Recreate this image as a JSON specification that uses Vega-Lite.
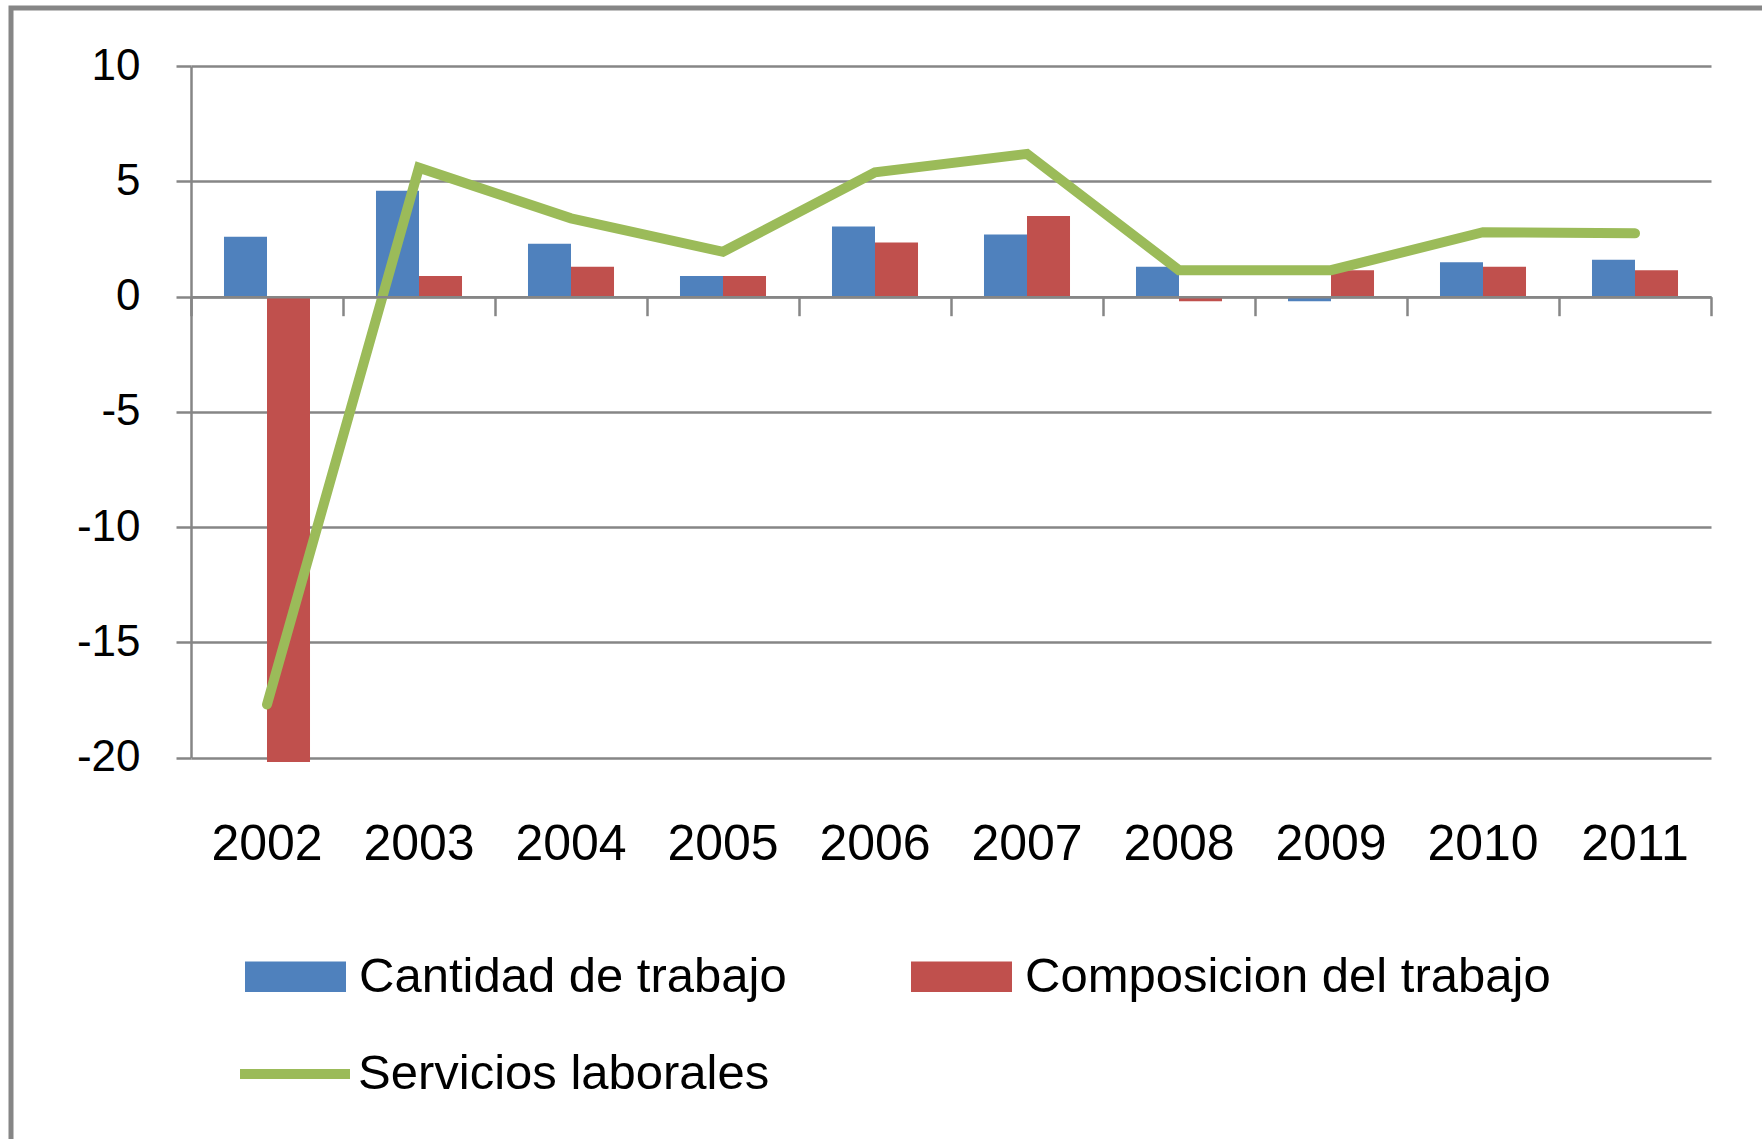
{
  "$schema": "https://vega.github.io/schema/vega-lite/v6.json",
  "width": 1761,
  "height": 1141,
  "autosize": "none",
  "padding": {"left": 11, "top": 8, "right": 0, "bottom": 0},
  "background": "white",
  "config": {
    "font": "Liberation Sans",
    "view": {"stroke": "#868686", "strokeWidth": 5}
  },
  "datasets": {
    "barras": [
      {"anio": "2002", "serie": "Cantidad de trabajo", "valor": 2.6},
      {"anio": "2002", "serie": "Composicion del trabajo", "valor": -20.2},
      {"anio": "2003", "serie": "Cantidad de trabajo", "valor": 4.6},
      {"anio": "2003", "serie": "Composicion del trabajo", "valor": 0.9},
      {"anio": "2004", "serie": "Cantidad de trabajo", "valor": 2.3},
      {"anio": "2004", "serie": "Composicion del trabajo", "valor": 1.3},
      {"anio": "2005", "serie": "Cantidad de trabajo", "valor": 0.9},
      {"anio": "2005", "serie": "Composicion del trabajo", "valor": 0.9},
      {"anio": "2006", "serie": "Cantidad de trabajo", "valor": 3.05},
      {"anio": "2006", "serie": "Composicion del trabajo", "valor": 2.35},
      {"anio": "2007", "serie": "Cantidad de trabajo", "valor": 2.7},
      {"anio": "2007", "serie": "Composicion del trabajo", "valor": 3.5},
      {"anio": "2008", "serie": "Cantidad de trabajo", "valor": 1.3},
      {"anio": "2008", "serie": "Composicion del trabajo", "valor": -0.2},
      {"anio": "2009", "serie": "Cantidad de trabajo", "valor": -0.2},
      {"anio": "2009", "serie": "Composicion del trabajo", "valor": 1.15},
      {"anio": "2010", "serie": "Cantidad de trabajo", "valor": 1.5},
      {"anio": "2010", "serie": "Composicion del trabajo", "valor": 1.3},
      {"anio": "2011", "serie": "Cantidad de trabajo", "valor": 1.6},
      {"anio": "2011", "serie": "Composicion del trabajo", "valor": 1.15}
    ],
    "linea": [
      {"anio": "2002", "serie": "Servicios laborales", "valor": -17.7},
      {"anio": "2003", "serie": "Servicios laborales", "valor": 5.6},
      {"anio": "2004", "serie": "Servicios laborales", "valor": 3.4},
      {"anio": "2005", "serie": "Servicios laborales", "valor": 1.95},
      {"anio": "2006", "serie": "Servicios laborales", "valor": 5.4},
      {"anio": "2007", "serie": "Servicios laborales", "valor": 6.2},
      {"anio": "2008", "serie": "Servicios laborales", "valor": 1.15},
      {"anio": "2009", "serie": "Servicios laborales", "valor": 1.15},
      {"anio": "2010", "serie": "Servicios laborales", "valor": 2.8},
      {"anio": "2011", "serie": "Servicios laborales", "valor": 2.75}
    ]
  },
  "layer": [
    {
      "data": {"name": "barras"},
      "mark": {"type": "bar"},
      "encoding": {
        "x": {
          "field": "anio",
          "type": "ordinal",
          "scale": {"range": [180, 1700], "paddingInner": 0, "paddingOuter": 0},
          "axis": {
            "orient": "bottom",
            "offset": -391.5,
            "domain": false,
            "ticks": false,
            "tickSize": 0,
            "grid": false,
            "labelAngle": 0,
            "labelPadding": 62,
            "labelFont": "Liberation Sans",
            "labelFontSize": 50,
            "labelColor": "black",
            "title": null
          }
        },
        "xOffset": {
          "field": "serie",
          "type": "nominal",
          "scale": {"paddingInner": 0, "paddingOuter": 0.767}
        },
        "y": {
          "field": "valor",
          "type": "quantitative",
          "scale": {"domain": [-20, 10], "range": [749.5, 58.3], "nice": false},
          "axis": {
            "values": [-20, -15, -10, -5, 0, 5, 10],
            "labelExpr": "toString(datum.value)",
            "offset": -180,
            "grid": true,
            "gridColor": "#868686",
            "gridWidth": 2.5,
            "domainColor": "#868686",
            "domainWidth": 2.5,
            "tickColor": "#868686",
            "tickWidth": 2.5,
            "tickSize": 15,
            "labelPadding": 36,
            "labelFont": "Liberation Sans",
            "labelFontSize": 44,
            "labelColor": "black",
            "title": null
          }
        },
        "fill": {
          "field": "serie",
          "type": "nominal",
          "scale": {
            "domain": ["Cantidad de trabajo", "Composicion del trabajo"],
            "range": ["#4F81BD", "#C0504D"]
          },
          "legend": {
            "orient": "none",
            "legendX": 234,
            "legendY": 918,
            "direction": "horizontal",
            "columns": 2,
            "columnPadding": 124,
            "padding": 0,
            "title": null,
            "symbolType": "M-1,-0.3H1V0.3H-1Z",
            "symbolSize": 10201,
            "symbolStrokeWidth": 0,
            "symbolOpacity": 1,
            "labelOffset": 13,
            "labelLimit": 2000,
            "labelFont": "Liberation Sans",
            "labelFontSize": 49,
            "labelColor": "black"
          }
        }
      }
    },
    {
      "data": {"name": "linea"},
      "mark": {"type": "line", "strokeWidth": 10, "strokeCap": "round", "strokeJoin": "miter"},
      "encoding": {
        "x": {
          "field": "anio",
          "type": "ordinal",
          "axis": {
            "orient": "bottom",
            "offset": -852.3,
            "labels": false,
            "grid": false,
            "domain": true,
            "domainColor": "#868686",
            "domainWidth": 2.5,
            "ticks": true,
            "tickBand": "extent",
            "tickSize": 19,
            "tickColor": "#868686",
            "tickWidth": 2.5,
            "title": null,
            "zindex": 1
          }
        },
        "y": {"field": "valor", "type": "quantitative"},
        "stroke": {
          "field": "serie",
          "type": "nominal",
          "scale": {"domain": ["Servicios laborales"], "range": ["#9BBB59"]},
          "legend": {
            "orient": "none",
            "legendX": 224,
            "legendY": 1006,
            "padding": 0,
            "title": null,
            "symbolType": "stroke",
            "symbolSize": 12100,
            "symbolStrokeWidth": 10,
            "labelOffset": 3,
            "labelLimit": 2000,
            "labelFont": "Liberation Sans",
            "labelFontSize": 49,
            "labelColor": "black"
          }
        }
      }
    }
  ],
  "resolve": {"axis": {"x": "independent"}}
}
